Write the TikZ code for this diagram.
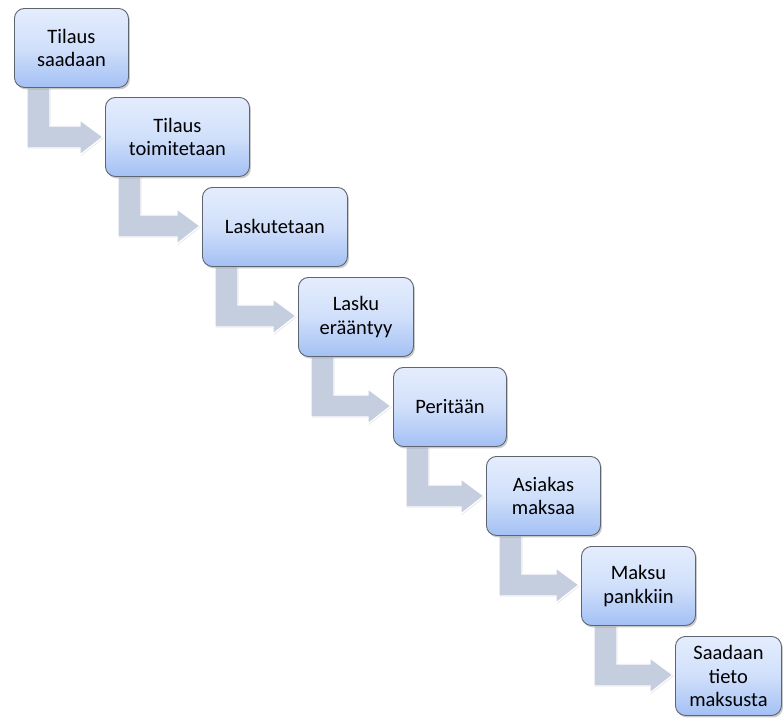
\documentclass[tikz,border=0pt]{standalone}
\usepackage{fontspec}
\setmainfont{Carlito}
\usetikzlibrary{shadows,calc}
\pgfdeclarelayer{background}
\pgfsetlayers{background,main}
\definecolor{boxtop}{HTML}{E4EDFD}
\definecolor{boxbot}{HTML}{A3C0F4}
\definecolor{boxline}{HTML}{5E6470}
\definecolor{arrfill}{HTML}{C4CEDF}
\tikzset{
  stepbox/.style={rectangle, rounded corners=10pt, draw=boxline, line width=0.9pt,
    top color=boxtop, bottom color=boxbot, middle color=boxtop!70!boxbot,
    align=center, font=\fontsize{20.5}{23.5}\selectfont, text=black,
    minimum height=79pt, inner sep=2pt, anchor=north west,
    drop shadow={shadow xshift=1.5pt, shadow yshift=-2pt, opacity=0.35, fill=black!60}},
  bentarrow/.style={fill=arrfill, draw=white, line width=1.3pt, line join=miter,
    drop shadow={shadow xshift=0.8pt, shadow yshift=-1pt, opacity=0.25, fill=black!50}}
}
\newcommand\flowarrow[2]{%
  \begin{pgfonlayer}{background}
  \path[bentarrow] let \p1=(#1.south west), \p2=(#2.west) in
    (\x1+13pt,\y1) -- (\x1+13pt,\y1-60pt) -- (\x2-25pt,\y1-60pt) -- (\x2-25pt,\y1-67pt)
    -- (\x2-2pt,\y1-49pt) -- (\x2-25pt,\y1-32pt) -- (\x2-25pt,\y1-38pt)
    -- (\x1+36pt,\y1-38pt) -- (\x1+36pt,\y1) -- cycle;
  \end{pgfonlayer}}
\begin{document}
\begin{tikzpicture}[x=1pt,y=-1pt]
\useasboundingbox (0,0) rectangle (783,718);
\node[stepbox, minimum width=114pt] (b1) at (14,8) {Tilaus\\saadaan};
\node[stepbox, minimum width=144pt] (b2) at (105,97) {Tilaus\\toimitetaan};
\node[stepbox, minimum width=145pt] (b3) at (202,187) {Laskutetaan};
\node[stepbox, minimum width=115pt] (b4) at (298,277) {Lasku\\erääntyy};
\node[stepbox, minimum width=113pt] (b5) at (393,367) {Peritään};
\node[stepbox, minimum width=114pt] (b6) at (486,456) {Asiakas\\maksaa};
\node[stepbox, minimum width=114pt] (b7) at (581,546) {Maksu\\pankkiin};
\node[stepbox, minimum width=106pt] (b8) at (675,636) {Saadaan\\tieto\\maksusta};
\flowarrow{b1}{b2}
\flowarrow{b2}{b3}
\flowarrow{b3}{b4}
\flowarrow{b4}{b5}
\flowarrow{b5}{b6}
\flowarrow{b6}{b7}
\flowarrow{b7}{b8}
\end{tikzpicture}
\end{document}
